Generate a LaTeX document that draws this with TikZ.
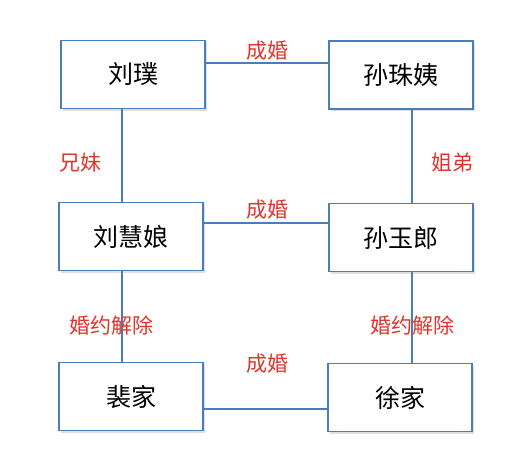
\documentclass[tikz,border=0pt]{standalone}
\usepackage{fontspec}
\setmainfont{Noto Sans CJK SC}
\usetikzlibrary{shadows}
\definecolor{lineblue}{HTML}{4A7EBB}
\definecolor{labred}{HTML}{E0342A}
\begin{document}
\begin{tikzpicture}[x=1pt,y=-1pt,
 box/.style={draw=lineblue, line width=1.6pt, fill=white, minimum width=144pt, minimum height=68pt, inner sep=0pt,
   font=\fontsize{25}{25}\selectfont,
   drop shadow={shadow xshift=2pt, shadow yshift=-2pt, opacity=0.25, fill=gray}},
 link/.style={draw=lineblue, line width=1.6pt},
 lab/.style={text=labred, font=\fontsize{21}{21}\selectfont, inner sep=0pt}]
\useasboundingbox (0,0) rectangle (529,472);
\node[box] (liupu) at (133,74.5) {刘璞};
\node[box] (sunzhuyi) at (401,75) {孙珠姨};
\node[box] (liuhuiniang) at (131,236.5) {刘慧娘};
\node[box] (sunyulang) at (401,237.5) {孙玉郎};
\node[box] (pei) at (131,396.5) {裴家};
\node[box] (xu) at (400,397.5) {徐家};
% horizontal links
\draw[link] ([yshift=11.5pt]liupu.east) -- ([yshift=11.5pt]liupu.east -| sunzhuyi.west);
\draw[link] ([yshift=13.5pt]liuhuiniang.east) -- ([yshift=13.5pt]liuhuiniang.east -| sunyulang.west);
\draw[link] ([yshift=-12.5pt]pei.east) -- ([yshift=-12.5pt]pei.east -| xu.west);
% vertical links
\draw[link] ([xshift=-11pt]liupu.south) -- ([xshift=-11pt]liupu.south |- liuhuiniang.north);
\draw[link] ([xshift=-9pt]liuhuiniang.south) -- ([xshift=-9pt]liuhuiniang.south |- pei.north);
\draw[link] ([xshift=11pt]sunzhuyi.south) -- ([xshift=11pt]sunzhuyi.south |- sunyulang.north);
\draw[link] ([xshift=11pt]sunyulang.south) -- ([xshift=11pt]sunyulang.south |- xu.north);
% labels
\node[lab] (m1) at (267,51) {成婚};
\node[lab] (m2) at (267,210) {成婚};
\node[lab] (m3) at (267,364) {成婚};
\node[lab] (sib1) at (80,163) {兄妹};
\node[lab] (sib2) at (452,163) {姐弟};
\node[lab] (br1) at (111,325) {婚约解除};
\node[lab] (br2) at (412,325) {婚约解除};
\end{tikzpicture}
\end{document}
